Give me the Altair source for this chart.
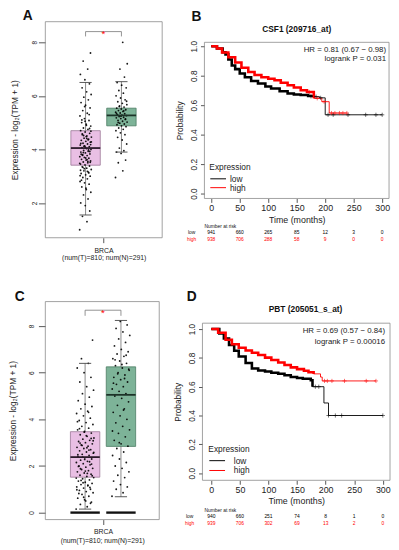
import altair as alt
import pandas as pd

FONT = "Liberation Sans"

# ---------------- text content ----------------
letters = ["A", "B", "C", "D"]
km_titles = ["CSF1 (209716_at)", "PBT (205051_s_at)"]
hr_text = ["HR = 0.81 (0.67 \u2212 0.98)", "HR = 0.69 (0.57 \u2212 0.84)"]
p_text = ["logrank P = 0.031", "logrank P = 0.00016"]
box_xlabel = "BRCA"
box_xtitle = "(num(T)=810; num(N)=291)"
box_ytitle = "Expression - log\u2082(TPM + 1)"

# ---------------- box plot data ----------------
groups = ["T", "N"]
group_pos = [1, 2]
box_fill = ["#E9BFE4", "#7DB398"]
box_stroke = ["#9A7896", "#4C7C64"]
median_col = ["#2a1a2a", "#1c3328"]

A_q1 = [3.41, 4.88]
A_med = [4.05, 5.27]
A_q3 = [4.70, 5.54]
A_lo = [1.55, 3.90]
A_hi = [6.50, 6.53]
A_sig = [8.40, 8.22]

C_q1 = [1.52, 2.84]
C_med = [2.38, 5.05]
C_q3 = [3.47, 6.25]
C_lo = [0.15, 0.68]
C_hi = [6.40, 8.24]
C_sig = [8.68, 8.44]

A_T_pts = [1.0, 1.3, 1.5, 1.7, 1.9, 2.0, 2.15, 2.3, 2.4, 2.5, 2.6, 2.7, 2.75, 2.8, 2.9,
           2.95, 3.0, 3.05, 3.1, 3.15, 3.2, 3.25, 3.3, 3.35, 3.38, 3.42, 3.45, 3.5, 3.53,
           3.57, 3.6, 3.63, 3.67, 3.7, 3.73, 3.77, 3.8, 3.83, 3.87, 3.9, 3.93, 3.96, 4.0,
           4.03, 4.06, 4.1, 4.13, 4.16, 4.2, 4.23, 4.27, 4.3, 4.34, 4.38, 4.42, 4.46, 4.5,
           4.55, 4.6, 4.65, 4.7, 4.75, 4.8, 4.87, 4.94, 5.0, 5.08, 5.15, 5.25, 5.35, 5.45,
           5.55, 5.65, 5.75, 5.85, 5.95, 6.05, 6.15, 6.3, 6.45, 6.6, 6.8, 7.0, 7.3, 7.6,
           2.55, 2.85, 3.12, 3.28, 3.48, 3.62, 3.78, 3.92, 4.08, 4.22, 4.36, 4.52, 4.68,
           4.9, 5.1, 5.3, 5.6, 3.02, 3.18, 3.33, 3.52, 3.68, 3.82, 3.98, 4.12, 4.28,
           4.41, 4.58, 4.78, 5.05, 3.22, 3.55, 3.88, 4.18, 4.48]
A_N_pts = [2.95, 3.2, 3.5, 3.6, 3.85, 3.9, 3.95, 4.05, 4.2, 4.35, 4.45, 4.55, 4.62, 4.7,
           4.75, 4.8, 4.85, 4.88, 4.92, 4.95, 4.98, 5.02, 5.05, 5.08, 5.12, 5.15, 5.18,
           5.2, 5.23, 5.26, 5.28, 5.3, 5.33, 5.36, 5.39, 5.42, 5.45, 5.48, 5.51, 5.54,
           5.58, 5.62, 5.67, 5.72, 5.78, 5.85, 5.92, 6.0, 6.1, 6.2, 6.3, 6.4, 6.5, 6.7,
           7.0, 7.2, 8.0, 5.0, 5.14, 5.24, 5.34, 5.44, 5.6, 5.8]
C_T_pts = [0.15, 0.25, 0.35, 0.45, 0.55, 0.62, 0.7, 0.78, 0.85, 0.9, 0.95, 1.0, 1.05,
           1.1, 1.15, 1.2, 1.25, 1.3, 1.35, 1.4, 1.45, 1.5, 1.55, 1.6, 1.65, 1.7, 1.75,
           1.8, 1.85, 1.9, 1.95, 2.0, 2.05, 2.1, 2.15, 2.2, 2.25, 2.3, 2.35, 2.4, 2.45,
           2.5, 2.55, 2.6, 2.65, 2.7, 2.75, 2.8, 2.85, 2.9, 2.95, 3.0, 3.05, 3.1, 3.15,
           3.2, 3.27, 3.34, 3.41, 3.48, 3.55, 3.62, 3.7, 3.78, 3.86, 3.95, 4.05, 4.15,
           4.25, 4.35, 4.45, 4.55, 4.65, 4.8, 4.95, 5.1, 5.25, 5.4, 5.6, 5.8, 6.0, 6.2,
           6.4, 6.6, 7.4, 0.5, 0.82, 1.08, 1.28, 1.48, 1.68, 1.88, 2.08, 2.28, 2.48, 2.68,
           2.88, 3.08, 3.3, 3.6, 0.4, 0.66, 0.98, 1.18, 1.38, 1.58, 1.78, 1.98, 2.18, 2.38,
           2.58, 2.78, 2.98, 3.18, 3.45, 3.9, 4.3]
C_N_pts = [0.7, 0.85, 1.0, 1.1, 1.2, 1.35, 1.5, 1.6, 1.75, 1.9, 2.0, 2.15, 2.3, 2.45,
           2.6, 2.75, 2.85, 2.95, 3.1, 3.25, 3.4, 3.55, 3.7, 3.85, 4.0, 4.15, 4.3, 4.45,
           4.6, 4.75, 4.9, 5.0, 5.1, 5.2, 5.3, 5.4, 5.5, 5.6, 5.7, 5.8, 5.9, 6.0, 6.1,
           6.2, 6.3, 6.4, 6.5, 6.6, 6.7, 6.8, 6.9, 7.0, 7.15, 7.3, 7.45, 7.6, 7.75, 7.9,
           8.05, 8.2, 5.55, 5.75, 5.95, 6.15, 6.35, 6.55, 6.75, 3.0, 3.5, 4.4]

# ---------------- Kaplan-Meier data ----------------
B_low_t = [0, 10, 20, 25, 30, 36, 42, 50, 59, 70, 82, 95, 105, 120, 134, 145, 157, 170,
           180, 190, 200, 300]
B_low_s = [1.0, 0.985, 0.96, 0.945, 0.91, 0.87, 0.845, 0.815, 0.79, 0.765, 0.747, 0.727,
           0.713, 0.695, 0.68, 0.673, 0.669, 0.662, 0.658, 0.65, 0.535, 0.535]
B_high_t = [0, 10, 19, 30, 42, 53, 65, 76, 88, 100, 111, 122, 134, 145, 157, 168, 180,
            194, 207, 238]
B_high_s = [1.0, 0.985, 0.958, 0.925, 0.89, 0.855, 0.825, 0.805, 0.79, 0.78, 0.769, 0.752,
            0.735, 0.72, 0.702, 0.69, 0.647, 0.624, 0.547, 0.547]
B_cens_low_t = [175, 184, 192, 205, 214, 240, 271, 289, 300]
B_cens_low_s = [0.66, 0.658, 0.65, 0.535, 0.535, 0.535, 0.535, 0.535, 0.535]
B_cens_high_t = [172, 186, 198, 211, 217, 225, 231, 238]
B_cens_high_s = [0.69, 0.647, 0.624, 0.547, 0.547, 0.547, 0.547, 0.547]

D_low_t = [0, 14, 22, 31, 40, 48, 60, 71, 82, 94, 105, 117, 128, 139, 150, 160, 174,
           177, 197, 205, 300]
D_low_s = [1.0, 0.97, 0.935, 0.89, 0.85, 0.81, 0.765, 0.727, 0.713, 0.705, 0.697, 0.69,
           0.68, 0.667, 0.66, 0.655, 0.645, 0.6, 0.487, 0.40, 0.40]
D_high_t = [0, 12, 25, 36, 48, 60, 71, 82, 94, 105, 117, 128, 139, 150, 162, 170, 179,
            191, 194, 288]
D_high_s = [1.0, 0.975, 0.926, 0.895, 0.87, 0.852, 0.836, 0.82, 0.802, 0.785, 0.768,
            0.75, 0.734, 0.722, 0.711, 0.7, 0.689, 0.667, 0.64, 0.64]
D_cens_low_t = [182, 188, 205, 217, 228, 300]
D_cens_low_s = [0.6, 0.6, 0.40, 0.40, 0.40, 0.40]
D_cens_high_t = [198, 203, 211, 233, 271, 288]
D_cens_high_s = [0.64, 0.64, 0.64, 0.64, 0.64, 0.64]

risk_times = [0, 50, 100, 150, 200, 250, 300]
B_risk_low = [941, 660, 265, 85, 12, 3, 0]
B_risk_high = [938, 706, 288, 58, 9, 0, 0]
D_risk_low = [940, 660, 251, 74, 8, 1, 0]
D_risk_high = [939, 706, 302, 69, 13, 2, 0]

expr_levels = ["low", "high"]
expr_colors = ["#000000", "#FF0000"]

FRAME = "#8a8a8a"


# ---------------- helpers ----------------
def txt(text, x, y, size, align="left", bold=False, color="#111111", baseline="middle"):
    return alt.Chart(pd.DataFrame({"label": [text]})).mark_text(
        align=align, baseline=baseline, fontSize=size,
        fontWeight="bold" if bold else "normal", color=color, font=FONT
    ).encode(x=alt.value(x), y=alt.value(y), text="label:N")


def hline(x1, x2, y, color, width=1.0):
    return alt.Chart(pd.DataFrame({"k": [0]})).mark_rule(
        color=color, strokeWidth=width
    ).encode(x=alt.value(x1), x2=alt.value(x2), y=alt.value(y))


def frame(w, y0, y1):
    return alt.Chart(pd.DataFrame({"k": [0]})).mark_rect(
        filled=False, stroke=FRAME, strokeWidth=0.8
    ).encode(x=alt.value(0), x2=alt.value(w), y=alt.value(y0), y2=alt.value(y1))


def box_panel(letter, q1, med, q3, lo, hi, pts_T, pts_N, sig, w, h, xdom, ydom,
              yvals, jitter, zero_floor, lab_pad, ttl_pad, xlab_pad, xttl_pad, let_xy):
    stats = pd.DataFrame({
        "group": groups, "pos": group_pos, "q1": q1, "med": med, "q3": q3,
        "lo": lo, "hi": hi, "fill": box_fill, "stroke": box_stroke, "mcol": median_col,
    })
    pts = pd.DataFrame({
        "group": ["T"] * len(pts_T) + ["N"] * len(pts_N),
        "pos": [group_pos[0]] * len(pts_T) + [group_pos[1]] * len(pts_N),
        "value": pts_T + pts_N,
        "idx": list(range(len(pts_T))) + list(range(len(pts_N))),
    })
    xs = alt.Scale(domain=xdom, nice=False, zero=False)
    ys = alt.Scale(domain=ydom, nice=False, zero=False)
    xax = alt.Axis(values=[1.5], labelExpr=f"'{box_xlabel}'", tickSize=5,
                   labelFontSize=7, labelPadding=xlab_pad, titleFontSize=7,
                   titlePadding=xttl_pad, titleFontWeight="normal")
    yax = alt.Axis(values=yvals, labelAngle=270, labelAlign="center",
                   labelBaseline="bottom", labelFontSize=6.5, tickSize=7,
                   labelPadding=lab_pad, titleFontSize=8.5, titlePadding=ttl_pad,
                   titleFontWeight="normal")

    def X(f):
        return alt.X(f, scale=xs, axis=xax, title=box_xtitle)

    def Y(f):
        return alt.Y(f, scale=ys, axis=yax, title=box_ytitle)

    base = alt.Chart(stats).transform_calculate(
        xl="datum.pos - 0.41", xr="datum.pos + 0.41",
        cl="datum.pos - 0.17", cr="datum.pos + 0.17",
    )
    boxes = base.mark_rect(strokeWidth=0.8).encode(
        x=X("xl:Q"), x2="xr:Q", y=Y("q1:Q"), y2="q3:Q",
        fill=alt.Fill("fill:N", scale=None),
        stroke=alt.Stroke("stroke:N", scale=None),
    )
    whisk_up = base.mark_rule(color="#555555", strokeWidth=0.7).encode(
        x=X("pos:Q"), y=Y("q3:Q"), y2="hi:Q")
    whisk_dn = base.mark_rule(color="#555555", strokeWidth=0.7).encode(
        x=X("pos:Q"), y=Y("lo:Q"), y2="q1:Q")
    cap_up = base.mark_rule(color="#444444", strokeWidth=0.9).encode(
        x=X("cl:Q"), x2="cr:Q", y=Y("hi:Q"))
    cap_dn = base.mark_rule(color="#444444", strokeWidth=0.9).encode(
        x=X("cl:Q"), x2="cr:Q", y=Y("lo:Q"))
    points = alt.Chart(pts).transform_calculate(
        xj=f"datum.pos + ((datum.idx * 0.618034) % 1 - 0.5) * {jitter}"
    ).mark_circle(size=3.5, color="#000000", opacity=0.9).encode(
        x=X("xj:Q"), y=Y("value:Q"))
    median = base.mark_rule(strokeWidth=1.8).encode(
        x=X("xl:Q"), x2="xr:Q", y=Y("med:Q"),
        color=alt.Color("mcol:N", scale=None),
    )
    layers = [frame(w, 0, h), boxes, whisk_up, whisk_dn, points, median, cap_up, cap_dn]
    if zero_floor:
        floor = base.transform_calculate(zero="0").mark_rule(
            strokeWidth=2.4, color="#111111").encode(
            x=X("xl:Q"), x2="xr:Q", y=Y("zero:Q"))
        layers.append(floor)
    sig_df = pd.DataFrame({"x1": [group_pos[0]], "x2": [group_pos[1]],
                           "xm": [(group_pos[0] + group_pos[1]) / 2],
                           "top": [sig[0]], "leg": [sig[1]]})
    sb = alt.Chart(sig_df)
    br_h = sb.mark_rule(color="#777777", strokeWidth=0.8).encode(
        x=X("x1:Q"), x2="x2:Q", y=Y("top:Q"))
    br_l = sb.mark_rule(color="#777777", strokeWidth=0.8).encode(
        x=X("x1:Q"), y=Y("top:Q"), y2="leg:Q")
    br_r = sb.mark_rule(color="#777777", strokeWidth=0.8).encode(
        x=X("x2:Q"), y=Y("top:Q"), y2="leg:Q")
    star = sb.mark_text(text="*", color="#FF0000", fontSize=10, baseline="middle",
                        dy=2.5, font=FONT).encode(x=X("xm:Q"), y=Y("top:Q"))
    layers += [br_h, br_l, br_r, star,
               txt(letter, let_xy[0], let_xy[1], 14, align="center", bold=True)]
    return alt.layer(*layers).properties(width=w, height=h)


def km_panel(letter, title, hr, pv, low_t, low_s, high_t, high_s, cl_t, cl_s, ch_t, ch_s,
             r_low, r_high, w, h, ext, xdom, ydom, pos):
    curves = pd.DataFrame({
        "t": low_t + high_t, "s": low_s + high_s,
        "grp": ["low"] * len(low_t) + ["high"] * len(high_t),
    })
    cens = pd.DataFrame({
        "t": cl_t + ch_t, "s": cl_s + ch_s,
        "grp": ["low"] * len(cl_t) + ["high"] * len(ch_t),
    })
    risk = pd.DataFrame({"t": risk_times, "low": r_low, "high": r_high})
    xs = alt.Scale(domain=xdom, nice=False, zero=False)
    ys = alt.Scale(domain=ydom, nice=False, zero=False, range=[h + ext, ext])
    cs = alt.Scale(domain=expr_levels, range=expr_colors)
    xax = alt.Axis(values=risk_times, labelFontSize=9, tickSize=4, labelPadding=1,
                   titleFontSize=9, titlePadding=3, titleFontWeight="normal")
    yax = alt.Axis(values=[0, 0.2, 0.4, 0.6, 0.8, 1.0], format=".1f", labelAngle=270,
                   labelAlign="center", labelBaseline="bottom", labelFontSize=8.5,
                   tickSize=4, labelPadding=2, titleFontSize=8.5, titlePadding=5,
                   titleFontWeight="normal")

    def X(f):
        return alt.X(f, scale=xs, axis=xax, title="Time (months)")

    def Y(f):
        return alt.Y(f, scale=ys, axis=yax, title="Probability")

    col = alt.Color("grp:N", scale=cs, legend=None)
    thin = alt.Chart(curves).mark_line(interpolate="step-after", strokeWidth=0.9).encode(
        x=X("t:Q"), y=Y("s:Q"), color=col, order=alt.Order("t:Q"))
    thick = alt.Chart(curves).transform_filter("datum.t <= 180").mark_line(
        interpolate="step-after", strokeWidth=2.6).encode(
        x=X("t:Q"), y=Y("s:Q"), color=col, order=alt.Order("t:Q"))
    marks = alt.Chart(cens).mark_point(
        shape="M-1,0L1,0M0,-1L0,1", size=18, filled=False, strokeWidth=0.8).encode(
        x=X("t:Q"), y=Y("s:Q"), color=col)
    rlow = alt.Chart(risk).mark_text(fontSize=5, color="#000000", font=FONT,
                                     baseline="middle").encode(
        x=X("t:Q"), y=alt.value(pos["rl"]), text="low:Q")
    rhigh = alt.Chart(risk).mark_text(fontSize=5, color="#FF0000", font=FONT,
                                      baseline="middle").encode(
        x=X("t:Q"), y=alt.value(pos["rh"]), text="high:Q")
    lx = pos["legx"]
    layers = [
        frame(w, ext, h + ext), thin, thick, marks, rlow, rhigh,
        txt(letter, pos["let"][0], pos["let"][1], 14, align="center", bold=True),
        txt(title, pos["title"][0], pos["title"][1], 8.5, align="center", bold=True),
        txt(hr, pos["hrx"], pos["hry"][0], 8, align="right", color="#222222"),
        txt(pv, pos["hrx"], pos["hry"][1], 8, align="right", color="#222222"),
        txt("Expression", lx, pos["legy"][0], 8.5, color="#222222"),
        hline(lx + 1, lx + 17, pos["legy"][1], expr_colors[0]),
        hline(lx + 1, lx + 17, pos["legy"][2], expr_colors[1]),
        txt(expr_levels[0], lx + pos["legtx"], pos["legy"][1], 8.5, color="#222222"),
        txt(expr_levels[1], lx + pos["legtx"], pos["legy"][2], 8.5, color="#222222"),
        txt("Number at risk", pos["nrx"], pos["nr"], 5),
        txt(expr_levels[0], -13, pos["rl"], 5, align="center"),
        txt(expr_levels[1], -13, pos["rh"], 5, align="center", color="#FF0000"),
    ]
    return alt.layer(*layers).properties(width=w, height=h + ext)


panelA = box_panel(letters[0], A_q1, A_med, A_q3, A_lo, A_hi, A_T_pts, A_N_pts, A_sig,
                   119, 220, [-0.123, 3.137], [0.7, 8.77], [2, 4, 6, 8], 0.33, False,
                   1, 12, 4, 0, (-18, -6))
panelC = box_panel(letters[2], C_q1, C_med, C_q3, C_lo, C_hi, C_T_pts, C_N_pts, C_sig,
                   116, 222, [-0.110, 3.068], [-0.3, 9.05], [0, 2, 4, 6, 8], 0.5, True,
                   4, 11, 3, 2, (-26, -5))

panelB = km_panel(letters[1], km_titles[0], hr_text[0], p_text[0], B_low_t, B_low_s,
                  B_high_t, B_high_s, B_cens_low_t, B_cens_low_s, B_cens_high_t,
                  B_cens_high_s, B_risk_low, B_risk_high, 188, 159, 21, [-12, 312],
                  [-0.033, 1.027],
                  {"let": (-8, -5), "title": (94, 7), "hrx": 185, "hry": (29, 38),
                   "legx": 5, "legy": (148, 160, 169), "legtx": 21, "nrx": 0,
                   "nr": 208, "rl": 214, "rh": 221})
panelD = km_panel(letters[3], km_titles[1], hr_text[1], p_text[1], D_low_t, D_low_s,
                  D_high_t, D_high_s, D_cens_low_t, D_cens_low_s, D_cens_high_t,
                  D_cens_high_s, D_risk_low, D_risk_high, 191, 160, 22, [-15.5, 312.6],
                  [-0.05, 1.041],
                  {"let": (-11, -5), "title": (105, 8), "hrx": 186, "hry": (30, 41),
                   "legx": 6, "legy": (150, 162, 172), "legtx": 26, "nrx": 2,
                   "nr": 212, "rl": 218, "rh": 225})

chart = alt.vconcat(
    alt.hconcat(panelA, panelB, spacing=12),
    alt.hconcat(panelC, panelD, spacing=13),
    spacing=28,
).properties(padding={"top": -5, "left": 0, "right": 0, "bottom": 0}).configure(
    font=FONT
).configure_view(
    stroke="transparent"
).configure_axis(
    domain=False, grid=False, tickColor="#555555", labelColor="#222222",
    titleColor="#222222", labelFont=FONT, titleFont=FONT
)

chart.save("out.html", embed_options={"renderer": "svg", "actions": False})
